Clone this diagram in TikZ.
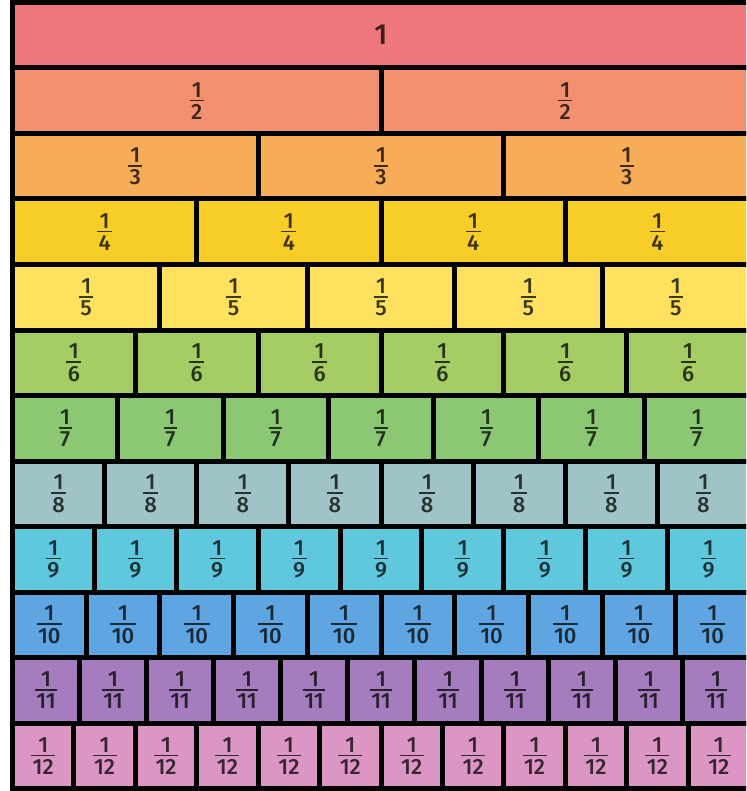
\documentclass[tikz,border=0pt]{standalone}
\usepackage{fontspec}
\setmainfont{Fira Sans}[UprightFont={* Medium}]
\definecolor{c1}{HTML}{EE787D}
\definecolor{c2}{HTML}{F3916E}
\definecolor{c3}{HTML}{F7AC58}
\definecolor{c4}{HTML}{F7CD28}
\definecolor{c5}{HTML}{FDE15F}
\definecolor{c6}{HTML}{A5CD64}
\definecolor{c7}{HTML}{8CC873}
\definecolor{c8}{HTML}{A0C3C8}
\definecolor{c9}{HTML}{5FC8DC}
\definecolor{c10}{HTML}{5FA5E1}
\definecolor{c11}{HTML}{A57DBE}
\definecolor{c12}{HTML}{DC96C3}
\newcommand\myfrac[1]{\vbox{\offinterlineskip\halign{\hfil\kern1.5pt##\kern1.5pt\hfil\cr 1\cr \noalign{\kern2.5pt\hrule height 1.6pt\kern3pt}#1\cr}}}
\tikzset{
  piece/.style={draw=black, line width=5pt},
  fraclabel/.style={inner sep=0pt, font=\fontsize{22}{22}\selectfont, anchor=center},
  wholelabel/.style={inner sep=0pt, font=\fontsize{29}{29}\selectfont, anchor=center}
}
\begin{document}
\begin{tikzpicture}[x=1pt,y=-1pt]
\useasboundingbox (0,0) rectangle (746,791);
\clip (0,0) rectangle (746,791);
\pgfmathsetmacro{\W}{737}
\pgfmathsetmacro{\H}{65.5}
\foreach \n in {1,...,12}{
  \pgfmathsetmacro{\ytop}{2.5+(\n-1)*\H}
  \pgfmathtruncatemacro{\last}{\n-1}
  \foreach \i in {0,...,\last}{
    \pgfmathsetmacro{\xl}{12.5+\i*\W/\n}
    \pgfmathsetmacro{\xr}{12.5+(\i+1)*\W/\n}
    \pgfmathsetmacro{\xc}{(\xl+\xr)/2}
    \pgfmathsetmacro{\yc}{\ytop+\H/2}
    \draw[piece, fill=c\n] (\xl,\ytop) rectangle (\xr,\ytop+\H);
    \ifnum\n=1
      \node[wholelabel, text=c\n!25!black] (r\n c\i) at (\xc,\yc-1) {1};
    \else
      \node[fraclabel, text=c\n!25!black] (r\n c\i) at (\xc,\yc) {\myfrac{\n}};
    \fi
  }
}
\end{tikzpicture}
\end{document}
